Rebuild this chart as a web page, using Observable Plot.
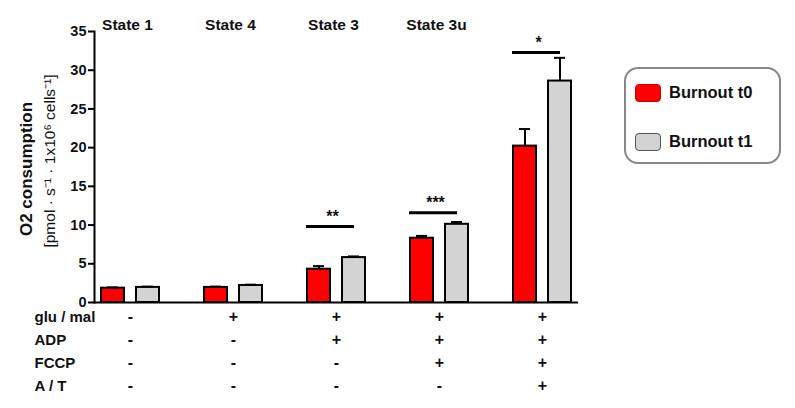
<!DOCTYPE html>
<html>
<head>
<meta charset="utf-8">
<script src="https://cdn.jsdelivr.net/npm/d3@7"></script>
<script src="https://cdn.jsdelivr.net/npm/@observablehq/plot@0.6"></script>
<style>
  html, body { margin: 0; padding: 0; background: #fff; }
  #wrap { position: relative; width: 795px; height: 408px; font-family: "Liberation Sans", Arial, sans-serif; }
  #legend { position: absolute; left: 624px; top: 67px; width: 153px; height: 93px;
            border: 2.5px solid #888; border-radius: 14px; background: #fff; }
  .item { position: absolute; left: 9px; display: flex; align-items: center; }
  .sw { width: 24px; height: 16px; border: 1.5px solid #555; border-radius: 4px; margin-right: 8px; }
  .lab { font-weight: bold; font-size: 16.5px; color: #111; }
</style>
</head>
<body>
<div id="wrap"></div>
<script>
// ---- data ----
const groupKeys = ["G1", "G2", "G3", "G4", "G5"];
const stateLabels = ["State 1", "State 4", "State 3", "State 3u", ""];
const seriesNames = ["Burnout t0", "Burnout t1"];
const seriesColors = ["#ff0000", "#d3d3d3"];
const t0 = [1.85, 1.95, 4.3, 8.3, 20.2];
const t0err = [0.1, 0.1, 0.4, 0.3, 2.2];
const t1 = [1.95, 2.2, 5.8, 10.1, 28.6];
const t1err = [0.1, 0.1, 0.15, 0.3, 3.0];
const sigY = [null, null, 9.8, 11.6, 32.3];
const sigText = ["", "", "**", "***", "*"];
const yTicks = [0, 5, 10, 15, 20, 25, 30, 35];
const condNames = ["glu / mal", "ADP", "FCCP", "A / T"];
const condSigns = [
  ["-", "+", "+", "+", "+"],
  ["-", "-", "+", "+", "+"],
  ["-", "-", "-", "+", "+"],
  ["-", "-", "-", "-", "+"]
];

const rows = groupKeys.map((g, i) => ({
  group: g, label: stateLabels[i],
  t0: t0[i], t0e: t0[i] + t0err[i],
  t1: t1[i], t1e: t1[i] + t1err[i],
  sig: sigY[i], sigText: sigText[i]
}));
const sigRows = rows.filter(d => d.sig != null);

const font = "'Liberation Sans', Arial, sans-serif";

const condMarks = [];
condNames.forEach((name, r) => {
  const dy = 19 + r * 23.3;
  condMarks.push(Plot.text([name], {frameAnchor: "bottom-left", dx: -60, dy, textAnchor: "start",
    fontSize: 15, fontWeight: "bold", fill: "#111"}));
  condMarks.push(Plot.text(rows, {x: "group", text: (d, i) => condSigns[r][i], frameAnchor: "bottom",
    dy, fontSize: 16, fontWeight: "bold", fill: "#111"}));
});

const chart = Plot.plot({
  width: 795, height: 408,
  marginLeft: 94, marginRight: 217, marginTop: 31, marginBottom: 106,
  style: {fontFamily: font, background: "white", color: "black"},
  x: {type: "band", domain: groupKeys, paddingInner: 0.44, paddingOuter: 0.06, axis: null},
  y: {domain: [0, 35], axis: null},
  marks: [
    // bars
    Plot.barY(rows, {x: "group", y: "t0", fill: seriesColors[0], stroke: "black", strokeWidth: 2, insetRight: 35}),
    Plot.barY(rows, {x: "group", y: "t1", fill: seriesColors[1], stroke: "black", strokeWidth: 2, insetLeft: 35}),
    // error bars
    Plot.ruleX(rows, {x: "group", y1: "t0", y2: "t0e", dx: -17.5, stroke: "black", strokeWidth: 2}),
    Plot.tickY(rows, {x: "group", y: "t0e", insetLeft: 6, insetRight: 41, stroke: "black", strokeWidth: 2}),
    Plot.ruleX(rows, {x: "group", y1: "t1", y2: "t1e", dx: 17.5, stroke: "black", strokeWidth: 2}),
    Plot.tickY(rows, {x: "group", y: "t1e", insetLeft: 41, insetRight: 6, stroke: "black", strokeWidth: 2}),
    // significance
    Plot.tickY(sigRows, {x: "group", y: "sig", insetLeft: 0, insetRight: 10, dx: -1, stroke: "black", strokeWidth: 3}),
    Plot.text(sigRows, {x: "group", y: "sig", text: "sigText", dy: -10, dx: -4, fontSize: 16, fontWeight: "bold", fill: "#111"}),
    // axes
    Plot.ruleY([0], {stroke: "black", strokeWidth: 2}),
    Plot.frame({anchor: "left", stroke: "black", strokeWidth: 2}),
    Plot.axisY({ticks: yTicks, tickSize: 6, tickPadding: 2, fontSize: 14.5, fontWeight: "bold", label: null, strokeWidth: 2, fill: "#111"}),
    // state labels
    Plot.text(rows, {x: "group", text: "label", frameAnchor: "top", dy: -13, dx: -3, fontSize: 15.5, fontWeight: "bold", fill: "#111"}),
    // y labels
    Plot.text(["O2 consumption"], {frameAnchor: "left", rotate: -90, textAnchor: "middle", dx: -68, dy: 2, fontSize: 17, fontWeight: "bold", fill: "#111"}),
    Plot.text(["[pmol · s⁻¹ · 1x10⁶ cells⁻¹]"], {frameAnchor: "left", rotate: -90, textAnchor: "middle", dx: -44, dy: -6, fontSize: 15.5, fill: "#111"}),
    ...condMarks
  ]
});

const wrap = document.getElementById("wrap");
wrap.appendChild(chart);

// legend
const legend = document.createElement("div");
legend.id = "legend";
seriesNames.forEach((name, i) => {
  const item = document.createElement("div");
  item.className = "item";
  item.style.top = (i === 0 ? 14 : 63) + "px";
  const sw = document.createElement("div");
  sw.className = "sw";
  sw.style.background = seriesColors[i];
  if (i === 0) sw.style.borderColor = "#c00";
  const lab = document.createElement("span");
  lab.className = "lab";
  lab.textContent = name;
  item.appendChild(sw); item.appendChild(lab);
  legend.appendChild(item);
});
wrap.appendChild(legend);
</script>
</body>
</html>
